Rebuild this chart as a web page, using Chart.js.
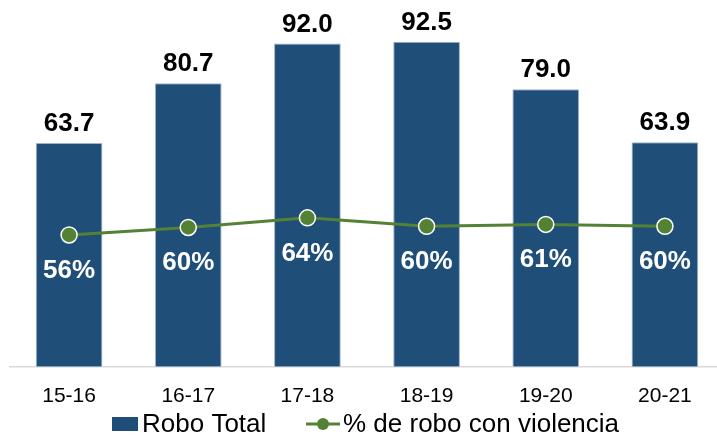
<!DOCTYPE html>
<html>
<head>
<meta charset="utf-8">
<script src="https://cdn.jsdelivr.net/npm/chart.js@4/dist/chart.umd.min.js"></script>
<style>
  html, body { margin: 0; padding: 0; background: #fff; overflow: hidden; }
  #wrap { width: 734px; height: 436px; }
</style>
</head>
<body>
<div id="wrap"><canvas id="chart" width="734" height="436"></canvas></div>
<script>
const periods = ["15-16", "16-17", "17-18", "18-19", "19-20", "20-21"];
const roboTotal = [63.7, 80.7, 92.0, 92.5, 79.0, 63.9];
const pctViolencia = [0.563, 0.595, 0.636, 0.60, 0.608, 0.60];
const seriesNames = ["Robo Total", "% de robo con violencia"];

const barColor = "#1f4e79";
const lineColor = "#548235";
const font = "'Liberation Sans', Arial, sans-serif";

// value labels + legend drawn by hand
const labelsPlugin = {
  id: "labels",
  afterDatasetsDraw(chart) {
    const c = chart.ctx;
    const bars = chart.getDatasetMeta(1).data;
    const pts = chart.getDatasetMeta(0).data;
    c.save();
    c.textAlign = "center";
    c.textBaseline = "alphabetic";
    c.font = "bold 26px " + font;
    c.fillStyle = "#000";
    bars.forEach((b, i) => {
      c.fillText(roboTotal[i].toFixed(1), b.x, b.y - 12);
    });
    c.fillStyle = "#fff";
    pts.forEach((p, i) => {
      c.fillText(Math.round(pctViolencia[i] * 100) + "%", p.x, p.y + 43);
    });

    // legend
    const ly = 424;
    c.fillStyle = barColor;
    c.fillRect(112, ly - 7, 26, 14);
    c.font = "26px " + font;
    c.fillStyle = "#000";
    c.textAlign = "left";
    c.textBaseline = "middle";
    c.fillText(seriesNames[0], 142, ly + 1);
    c.strokeStyle = lineColor;
    c.lineWidth = 3;
    c.beginPath();
    c.moveTo(306, ly);
    c.lineTo(340, ly);
    c.stroke();
    c.fillStyle = lineColor;
    c.beginPath();
    c.arc(323, ly, 6, 0, Math.PI * 2);
    c.fill();
    c.fillStyle = "#000";
    c.fillText(seriesNames[1], 343, ly + 1);
    c.restore();
  }
};

new Chart(document.getElementById("chart").getContext("2d"), {
  data: {
    labels: periods,
    datasets: [
      {
        type: "line",
        label: seriesNames[1],
        data: pctViolencia,
        yAxisID: "y1",
        borderColor: lineColor,
        borderWidth: 3,
        pointRadius: 8,
        pointBackgroundColor: lineColor,
        pointBorderColor: "#fff",
        pointBorderWidth: 1.5,
        tension: 0,
        order: 0,
      },
      {
        type: "bar",
        label: seriesNames[0],
        data: roboTotal,
        yAxisID: "y",
        backgroundColor: barColor,
        borderColor: "#9fb5ca",
        borderWidth: 1,
        categoryPercentage: 1,
        barPercentage: 0.56,
        order: 1,
      },
    ],
  },
  options: {
    responsive: false,
    animation: false,
    layout: { padding: { left: 8, right: 8, top: 15.5, bottom: 10 } },
    plugins: { legend: { display: false }, tooltip: { enabled: false } },
    scales: {
      x: {
        grid: { display: false, drawTicks: false },
        border: { color: "#d9d9d9", width: 1.5 },
        ticks: { color: "#000", font: { family: font, size: 21 }, padding: 17 },
      },
      y: { display: false, min: 0, max: 100 },
      y1: { display: false, min: 0, max: 1.5, position: "right" },
    },
  },
  plugins: [labelsPlugin],
});
</script>
</body>
</html>
